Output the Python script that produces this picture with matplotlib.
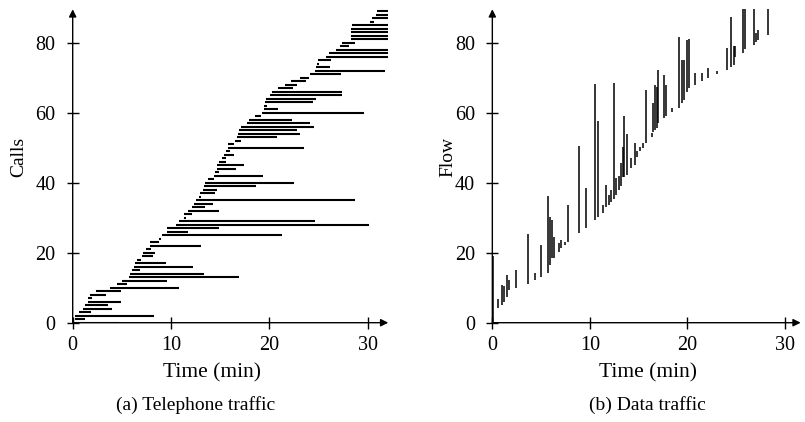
#!/usr/bin/env python3
"""Telephone vs data traffic: call holding times and flow arrivals."""
import matplotlib
matplotlib.use("Agg")
import matplotlib.pyplot as plt

plt.rcParams["font.family"] = ["Liberation Serif", "DejaVu Serif"]

# (a) telephone calls: one horizontal segment per call (start, end in minutes)
call_start = [0.0, 0.2, 0.2, 0.6, 1.0, 1.25, 1.6, 1.6, 1.8, 2.4,
              3.8, 4.5, 5.0, 5.7, 5.8, 6.0, 6.2, 6.3, 6.5, 7.0,
              7.2, 7.5, 7.9, 7.9, 8.8, 9.05, 9.6, 9.6, 10.5, 10.8,
              11.3, 11.3, 11.7, 12.1, 12.3, 12.5, 12.8, 12.9, 13.3, 13.4,
              13.5, 13.8, 14.4, 14.5, 14.7, 14.7, 14.9, 15.2, 15.4, 15.6,
              15.8, 15.8, 16.5, 16.7, 16.8, 16.9, 17.1, 17.7, 17.9, 18.5,
              19.3, 19.5, 19.5, 19.6, 19.7, 20.1, 20.3, 20.9, 21.6, 22.2,
              23.1, 24.1, 24.6, 24.7, 24.9, 25.0, 25.8, 26.1, 26.8, 27.2,
              27.4, 28.3, 28.3, 28.3, 28.3, 28.4, 30.2, 30.4, 30.9, 31.0]
call_end = [4.75, 1.3, 8.3, 1.9, 4.0, 3.6, 4.9, 2.0, 3.4, 4.9,
            10.8, 5.5, 9.6, 16.9, 13.4, 6.8, 12.2, 9.5, 6.9, 8.2,
            8.4, 8.0, 13.1, 8.8, 9.0, 21.3, 11.7, 14.9, 30.1, 24.6,
            11.5, 12.1, 14.9, 13.5, 14.3, 28.7, 13.1, 14.5, 14.7, 18.6,
            22.5, 14.4, 19.4, 14.9, 16.6, 17.4, 15.6, 15.6, 16.4, 16.0,
            23.5, 16.4, 17.1, 20.8, 23.1, 22.8, 24.5, 24.1, 22.3, 19.2,
            29.6, 20.9, 19.8, 24.4, 24.7, 27.4, 27.4, 22.4, 22.8, 23.7,
            24.0, 27.3, 31.8, 26.2, 25.1, 26.3, 33.0, 33.0, 33.0, 28.1,
            28.7, 33.0, 33.0, 33.0, 33.0, 33.0, 30.6, 33.0, 33.0, 33.0]
call_id = list(range(len(call_start)))

# (b) data flows: bursts of flows arriving together (time, lowest id, highest id)
burst_time = [0.1, 0.6, 0.95, 1.2, 1.55, 1.7, 2.4, 3.7, 4.4, 5.0,
              5.7, 5.9, 6.1, 6.3, 6.8, 7.0, 7.4, 7.8, 8.9, 9.6,
              10.5, 10.8, 11.3, 11.7, 12.0, 12.2, 12.45, 12.7, 12.95, 13.2,
              13.35, 13.45, 13.8, 14.25, 14.65, 14.85, 15.15, 15.4, 15.75, 16.4,
              16.5, 16.7, 16.85, 17.0, 17.6, 17.8, 18.4, 19.15, 19.45, 19.6,
              20.0, 20.2, 20.8, 21.5, 22.1, 23.0, 24.0, 24.5, 24.75, 24.9,
              25.7, 25.9, 26.8, 27.05, 27.2, 28.25]
burst_lo = [0, 4.1, 5, 6, 7.2, 9.3, 10, 11, 12.2, 13.1,
            14.1, 16.5, 18.4, 18.4, 20.3, 21.2, 22.2, 23.1, 25.5, 27,
            29.3, 30.3, 31.2, 33.1, 33.6, 34.6, 35.2, 36.5, 37.9, 38.9,
            41.7, 41.7, 42.2, 44.1, 45, 47.4, 48.9, 49.8, 51.2, 53.1,
            54.6, 55, 55.5, 57, 58.4, 58.9, 60.3, 61.2, 62.7, 63.6,
            66, 67, 67.9, 68.9, 69.8, 71, 72.2, 73.1, 73.6, 76,
            77, 78.1, 79.3, 80.3, 80.8, 82.2]
burst_hi = [19, 6.7, 10.8, 10.5, 13.6, 12.2, 15, 25.2, 14.1, 22.2,
            36.2, 30.3, 29.3, 24.6, 22.7, 23.6, 23.1, 33.6, 50.5, 38.6,
            68.1, 57.7, 33.6, 39.3, 36.5, 37.9, 68.4, 41.2, 42.0, 45.5,
            50.3, 58.9, 54, 47, 51.2, 48.9, 50.3, 51.2, 66.5, 54.1,
            62.7, 67.9, 67.4, 72.2, 70.8, 67.9, 61.2, 81.7, 75, 75,
            80.8, 81, 71.2, 71.2, 72.7, 71.8, 78.4, 87.4, 78.9, 78.9,
            90, 90, 90, 82.7, 83.6, 90]

xticks = [0, 10, 20, 30]
yticks = [0, 20, 40, 60, 80]


def style_axes(ax, xmax, ymax, ylabel, ylabel_x):
    ax.set_xlim(0, xmax)
    ax.set_ylim(0, ymax)
    for s in ax.spines.values():
        s.set_visible(False)
    arrow = dict(arrowstyle="-|>", color="black", lw=1.0,
                 mutation_scale=11, shrinkA=0, shrinkB=0)
    ax.annotate("", xy=(1, 0), xytext=(0, 0), xycoords="axes fraction",
                arrowprops=arrow, annotation_clip=False)
    ax.annotate("", xy=(0, 1), xytext=(0, 0), xycoords="axes fraction",
                arrowprops=arrow, annotation_clip=False)
    ax.set_xticks(xticks)
    ax.set_yticks(yticks)
    ax.tick_params(direction="inout", length=9, width=1, labelsize=14.5)
    ax.tick_params(axis="x", pad=5)
    ax.tick_params(axis="y", pad=8)
    ax.set_ylabel(ylabel, fontsize=14)
    ax.yaxis.set_label_coords(ylabel_x, 0.53)
    ax.yaxis.label.set_verticalalignment("center")


fig = plt.figure(figsize=(8.05, 4.22), dpi=100)
ax1 = fig.add_axes([0.0903, 0.2353, 0.392, 0.7427])
ax2 = fig.add_axes([0.6116, 0.2353, 0.383, 0.7427])

ax1.hlines(call_id, call_start, call_end, color="black", lw=1.5)
style_axes(ax1, 32.1, 89.5, "Calls", -0.17)

ax2.vlines(burst_time, burst_lo, burst_hi, color="black", lw=1.1)
style_axes(ax2, 31.6, 89.5, "Flow", -0.145)

fig.text(0.2635, 0.116, "Time (min)", ha="center", va="center", fontsize=15.5)
fig.text(0.805, 0.116, "Time (min)", ha="center", va="center", fontsize=15.5)
fig.text(0.2435, 0.04, "(a) Telephone traffic", ha="center", va="center", fontsize=14)
fig.text(0.804, 0.04, "(b) Data traffic", ha="center", va="center", fontsize=14)

fig.savefig("out.png", dpi=100)
